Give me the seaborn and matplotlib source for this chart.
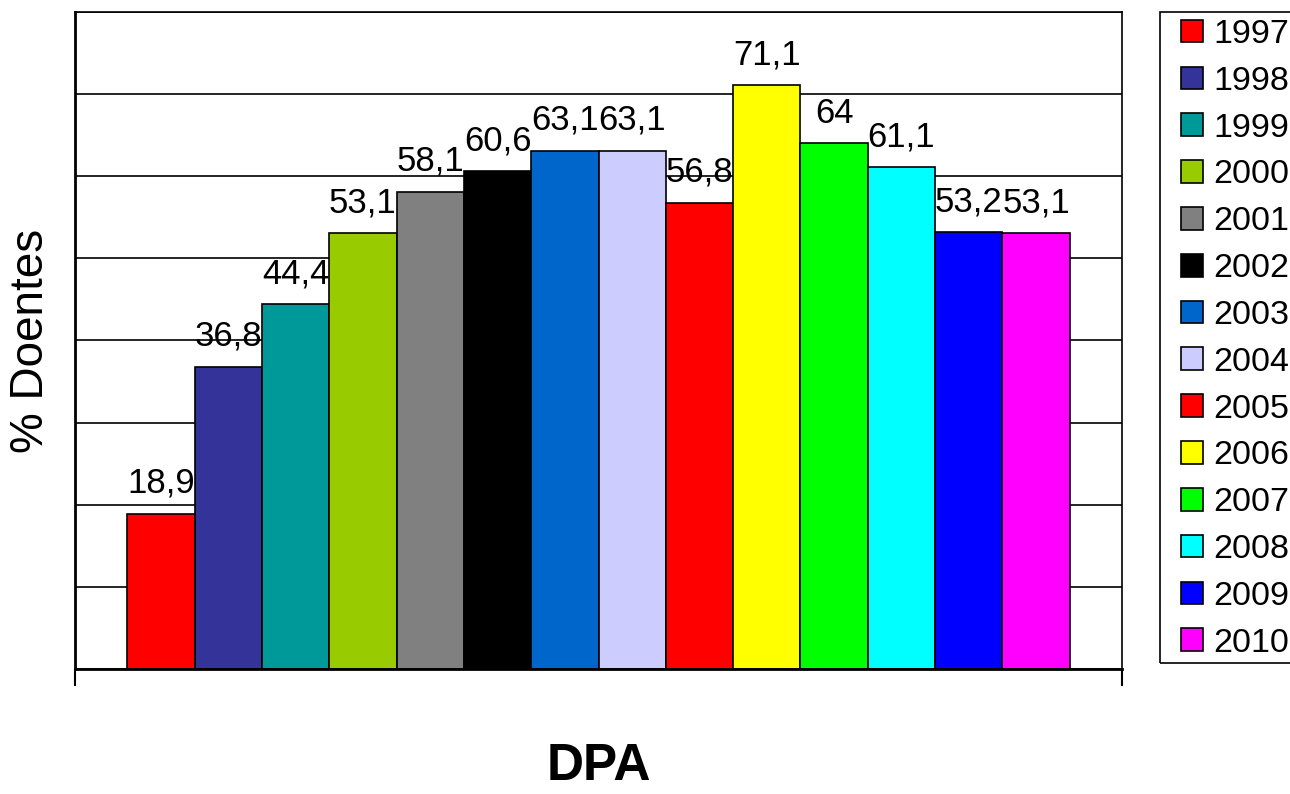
import pandas as pd
import matplotlib
matplotlib.use('Agg')
import matplotlib.pyplot as plt
from matplotlib.patches import Patch, Rectangle
import seaborn as sns

# dados
anos = ['1997', '1998', '1999', '2000', '2001', '2002', '2003',
        '2004', '2005', '2006', '2007', '2008', '2009', '2010']
valores = [18.9, 36.8, 44.4, 53.1, 58.1, 60.6, 63.1,
           63.1, 56.8, 71.1, 64, 61.1, 53.2, 53.1]
cores = ['#FF0000', '#333399', '#009999', '#99CC00', '#808080', '#000000', '#0066CC',
         '#CCCCFF', '#FF0000', '#FFFF00', '#00FF00', '#00FFFF', '#0000FF', '#FF00FF']

df = pd.DataFrame({'grupo': ['DPA'] * len(anos), 'ano': anos, 'valor': valores})

sns.set_style('white')
plt.rcParams['font.family'] = ['Liberation Sans', 'DejaVu Sans']
plt.rcParams['text.color'] = 'black'
plt.rcParams['axes.labelcolor'] = 'black'

fig = plt.figure(figsize=(12.9, 7.94), dpi=100)
ax = fig.add_axes([75 / 1290, 1 - 669 / 794, (1122 - 75) / 1290, (669 - 12) / 794])

sns.barplot(data=df, x='grupo', y='valor', hue='ano', palette=cores, saturation=1,
            width=0.9, edgecolor='black', linewidth=1.2, legend=False, ax=ax)

for cont, v in zip(ax.containers, valores):
    ax.bar_label(cont, labels=[f'{v:g}'.replace('.', ',')], padding=10, fontsize=25)

ax.set_ylim(0, 80)
ax.set_xlim(-0.5, 0.5)
ax.set_yticks(range(0, 81, 10))
ax.set_yticklabels([])
ax.tick_params(axis='y', length=0)
ax.set_xticks([-0.5, 0.5])
ax.set_xticklabels([])
ax.tick_params(axis='x', bottom=True, length=12, width=1.5, direction='out', color='black')
ax.yaxis.grid(True, color='black', linewidth=1.2)
ax.set_axisbelow(True)

for lado in ['left', 'bottom']:
    ax.spines[lado].set_linewidth(2)
    ax.spines[lado].set_color('black')
for lado in ['top', 'right']:
    ax.spines[lado].set_linewidth(1.2)
    ax.spines[lado].set_color('black')

ax.set_ylabel('% Doentes', fontsize=33, labelpad=12)
ax.set_xlabel('DPA', fontsize=37, fontweight='bold', labelpad=37)

# legenda sem moldura + caixa desenhada à parte (como no Excel)
handles = [Patch(facecolor=c, edgecolor='black', linewidth=1.2) for c in cores]
leg = ax.legend(handles, anos, loc='upper left',
                bbox_to_anchor=(1181 / 1290, 1 - 19 / 794), bbox_transform=fig.transFigure,
                fontsize=24.5, frameon=False, borderaxespad=0, borderpad=0,
                handlelength=0.65, handleheight=0.65, handletextpad=0.3, labelspacing=0.465)
fig.patches.append(Rectangle((1160 / 1290, 1 - 663 / 794), 0.2, (663 - 12) / 794,
                             transform=fig.transFigure, facecolor='none',
                             edgecolor='black', linewidth=1.2))

fig.savefig('out.png', dpi=100)
